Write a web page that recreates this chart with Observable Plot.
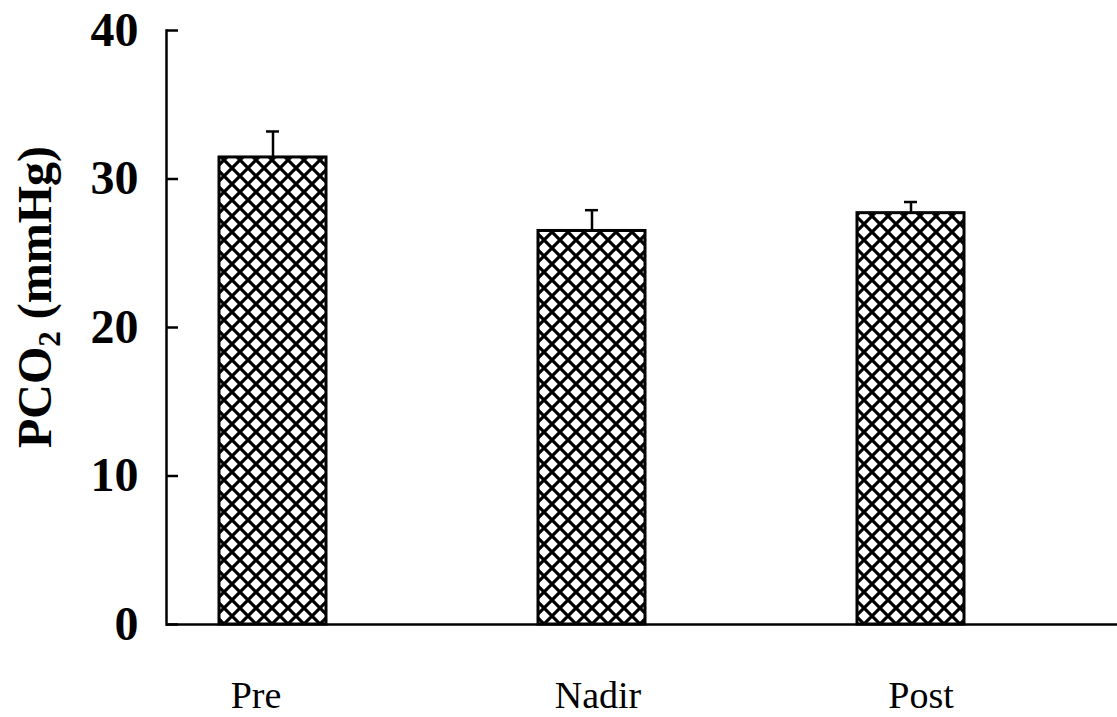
<!DOCTYPE html>
<html>
<head>
<meta charset="utf-8">
<script src="https://cdn.jsdelivr.net/npm/d3@7"></script>
<script src="https://cdn.jsdelivr.net/npm/@observablehq/plot@0.6"></script>
<style>
  html, body { margin: 0; padding: 0; background: #fff; }
  #chart svg { display: block; overflow: visible; }
</style>
</head>
<body>
<div id="chart"></div>
<script>
// ---- data ----
const categories = ["Pre", "Nadir", "Post"];
const means = [31.45, 26.5, 27.7];
const sems = [1.75, 1.4, 0.75];
const yTicks = [0, 10, 20, 30, 40];

const data = categories.map((c, i) => ({cat: c, value: means[i], upper: means[i] + sems[i]}));

// ---- layout ----
const W = 1117, H = 717;
const mL = 166, mR = 0, mT = 30, mB = 93;
const font = "'Liberation Serif', 'Times New Roman', serif";
const labelDx = {Pre: -17, Nadir: 6, Post: 10};

const chart = Plot.plot({
  width: W,
  height: H,
  marginLeft: mL,
  marginRight: mR,
  marginTop: mT,
  marginBottom: mB,
  style: {fontFamily: font, background: "#fff", color: "#000"},
  x: {type: "band", domain: categories, range: [219, 964], paddingInner: 0.665, paddingOuter: 0, axis: null},
  y: {domain: [0, 40], axis: null},
  marks: [
    Plot.barY(data, {x: "cat", y: "value", fill: "url(#xhatch)", stroke: "#000", strokeWidth: 3}),
    Plot.ruleX(data, {x: "cat", y1: "value", y2: "upper", stroke: "#000", strokeWidth: 2.5}),
    Plot.tickY(data, {x: "cat", y: "upper", stroke: "#000", strokeWidth: 2.5, insetLeft: 47, insetRight: 47}),
    Plot.ruleY([0], {stroke: "#000", strokeWidth: 2.5}),
    Plot.frame({anchor: "left", stroke: "#000", strokeWidth: 2.5}),
    Plot.ruleY(yTicks, {stroke: "#000", strokeWidth: 2.5, insetRight: (W - mL - mR) - 12}),
    Plot.axisY({ticks: yTicks, tickSize: 0, tickPadding: 28, fontSize: 48, fontWeight: "bold", label: null, fontFamily: font}),
    ...categories.map(c => Plot.text([c], {
      x: d => d, frameAnchor: "bottom", lineAnchor: "middle", dy: 71, dx: labelDx[c],
      fontSize: 38, fontFamily: font, fill: "#000"
    }))
  ]
});

// crosshatch pattern
const svg = d3.select(chart);
const defs = svg.insert("defs", ":first-child");
const pat = defs.append("pattern")
  .attr("id", "xhatch")
  .attr("patternUnits", "userSpaceOnUse")
  .attr("width", 16).attr("height", 16);
pat.append("rect").attr("width", 16).attr("height", 16).attr("fill", "#fff");
pat.append("path")
  .attr("d", "M0,0L16,16M16,0L0,16M-4,4L4,-4M12,20L20,12M-4,12L4,20M12,-4L20,4")
  .attr("stroke", "#000").attr("stroke-width", 3.2).attr("fill", "none");

// y-axis title with subscript
const t = svg.append("text")
  .attr("transform", "translate(51,297) rotate(-90)")
  .attr("text-anchor", "middle")
  .attr("font-family", font)
  .attr("font-weight", "bold")
  .attr("font-size", 48)
  .attr("fill", "#000");
t.append("tspan").text("PCO");
t.append("tspan").attr("font-size", 31).attr("dy", 9).text("2");
t.append("tspan").attr("dy", -9).text(" (mmHg)");

document.getElementById("chart").appendChild(chart);
</script>
</body>
</html>
